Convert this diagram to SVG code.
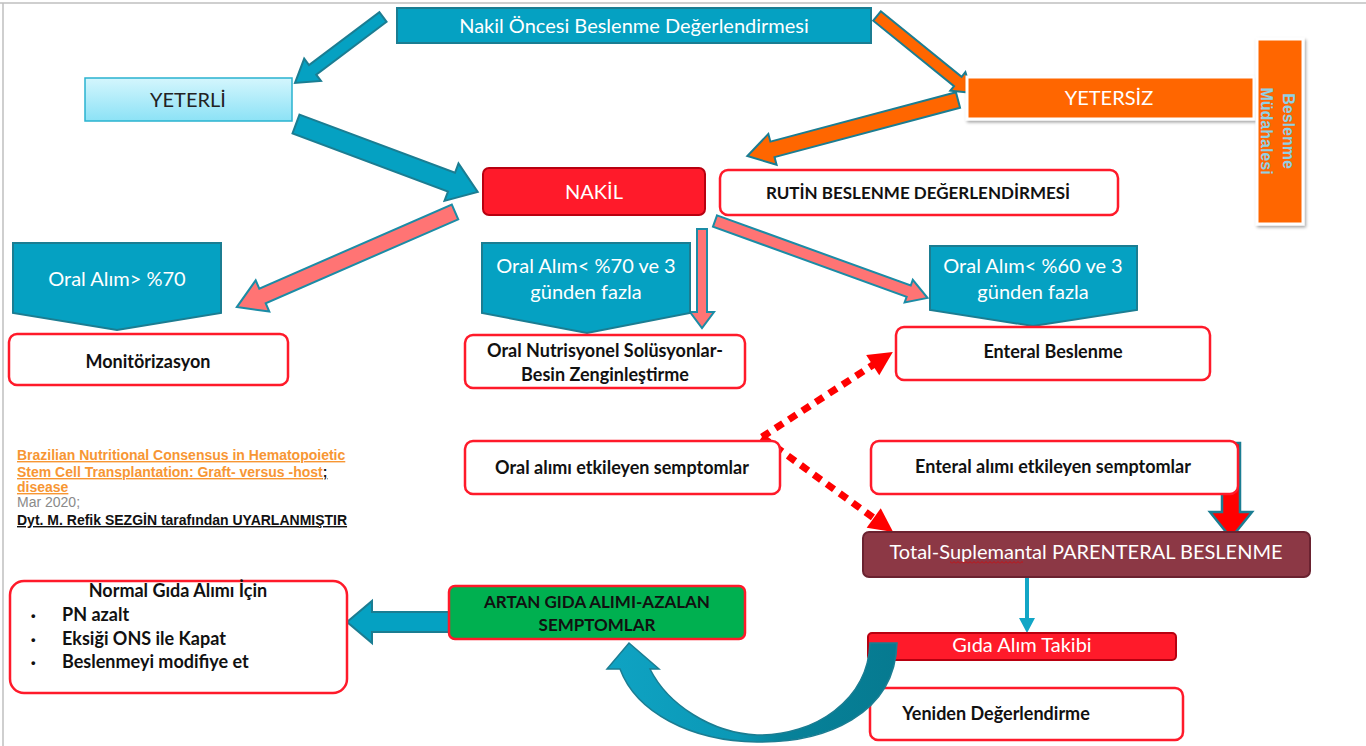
<svg xmlns="http://www.w3.org/2000/svg" width="1366" height="746" viewBox="0 0 1366 746">
<defs>
<style>
.tealbox{fill:#05A1C2;stroke:#1B7D92;stroke-width:2}
.wbox{fill:#fff;stroke:#FF1A2A;stroke-width:2.5}
.tw{font-family:Lato,"Open Sans",sans-serif;fill:#fff;font-size:20px;text-anchor:middle}
.tb{font-family:Lato,"Open Sans",sans-serif;fill:#111;font-size:18px;font-weight:bold;text-anchor:middle}
.tbu{font-size:17px}
.arT{fill:#05A1C2;stroke:#1B7D92;stroke-width:2;stroke-linejoin:miter}
.arO{fill:#FF6600;stroke:#1B7D92;stroke-width:2}
.arP{fill:#FF7474;stroke:#1B8CA6;stroke-width:2}
.dot{fill:none;stroke:#FF0000;stroke-width:7;stroke-dasharray:9 7}
.cit{font-family:"Liberation Sans",Arial,sans-serif;font-size:14px;font-weight:bold}
</style>
<linearGradient id="gY" x1="0" y1="0" x2="0" y2="1">
<stop offset="0" stop-color="#D4F6FD"/><stop offset="1" stop-color="#8CE2F6"/>
</linearGradient>
<linearGradient id="gC" x1="0" y1="0" x2="1" y2="0">
<stop offset="0" stop-color="#0FA3C3"/><stop offset="0.45" stop-color="#0B98B6"/><stop offset="0.6" stop-color="#07829A"/><stop offset="1" stop-color="#067A90"/>
</linearGradient>
<pattern id="wavy" width="4" height="3" patternUnits="userSpaceOnUse">
<path d="M0,2.5 L2,0.5 L4,2.5" fill="none" stroke="#E00000" stroke-width="0.7"/>
</pattern>
<filter id="sh" x="-10%" y="-10%" width="130%" height="130%">
<feDropShadow dx="1.5" dy="2" stdDeviation="1.5" flood-color="#000" flood-opacity="0.35"/>
</filter>
</defs>
<rect width="1366" height="746" fill="#fff"/>
<line x1="0" y1="3" x2="1366" y2="3" stroke="#BFBFBF" stroke-width="1.5"/>
<line x1="3" y1="3" x2="3" y2="746" stroke="#BFBFBF" stroke-width="1.5"/>

<g id="connectors">
<polygon class="arT" transform="translate(383,17) rotate(143.13)" points="0,-6 88,-6 88,-14 110,0 88,14 88,6 0,6"/>
<polygon class="arO" transform="translate(877,16) rotate(39)" points="0,-6 104,-6 104,-12 122,0 104,12 104,6 0,6"/>
<polygon class="arT" transform="translate(296,124) rotate(20.5)" points="0,-10 166,-10 166,-20 194,0 166,20 166,10 0,10"/>
<polygon class="arO" transform="translate(958,100) rotate(165.1)" points="0,-8 192,-8 192,-16 218,0 192,16 192,8 0,8"/>
<polygon class="arP" transform="translate(455,212) rotate(156.45)" points="0,-8 210,-8 210,-17 238,0 210,17 210,8 0,8"/>
<polygon class="arP" transform="translate(702,229) rotate(90)" points="0,-5 83,-5 83,-12 99,0 83,12 83,5 0,5"/>
<polygon class="arP" transform="translate(715,221) rotate(19.9)" points="0,-6 206,-6 206,-12 226,0 206,12 206,6 0,6"/>
<g transform="translate(762,437) rotate(-33)">
<line class="dot" x1="0" y1="0" x2="134" y2="0"/>
<polygon points="132,-12 156,0 132,12" fill="#FF0000"/>
</g>
<g transform="translate(762,437) rotate(35.95)">
<line class="dot" x1="0" y1="0" x2="140" y2="0"/>
<polygon points="138,-12 162,0 138,12" fill="#FF0000"/>
</g>
<polygon transform="translate(1231,443) rotate(90)" points="0,-9 69,-9 69,-21 95,0 69,21 69,9 0,9" fill="#FF0000" stroke="#1B7D92" stroke-width="2.5"/>
<line x1="1027" y1="578" x2="1027" y2="620" stroke="#12A6C6" stroke-width="4"/>
<polygon points="1019,618 1035,618 1027,633" fill="#12A6C6"/>
<polygon class="arT" transform="translate(449,622) rotate(180)" points="0,-10 77,-10 77,-21 102,0 77,21 77,10 0,10"/>
</g>

<g id="n_top">
<rect class="tealbox" x="397" y="8" width="474" height="35"/>
<text class="tw" x="634" y="33">Nakil Öncesi Beslenme Değerlendirmesi</text>
</g>
<g id="n_yeterli">
<rect x="85" y="78" width="207" height="43" fill="url(#gY)" stroke="#2AB3CF" stroke-width="1.5"/>
<text class="tw" x="188" y="107" style="fill:#222">YETERLİ</text>
</g>
<g id="n_yetersiz">
<rect x="967" y="77" width="287" height="42" fill="#FF6600" stroke="#fff" stroke-width="3" filter="url(#sh)"/>
<text class="tw" x="1109" y="105" font-size="19">YETERSİZ</text>
</g>
<g id="n_mudahale">
<rect x="1257" y="39" width="46" height="185" fill="#FF6600" stroke="#fff" stroke-width="3" filter="url(#sh)"/>
<g font-family="'Liberation Sans',Arial,sans-serif" font-weight="bold" font-size="16" fill="#8FD0E6" text-anchor="middle">
<text transform="translate(1283,131) rotate(90)">Beslenme</text>
<text transform="translate(1261,131) rotate(90)">Müdahalesi</text>
</g>
</g>
<g id="n_nakil">
<rect x="483" y="168" width="222" height="47" rx="6" fill="#FF1A2A" stroke="#B80010" stroke-width="2"/>
<text class="tw" x="594" y="199" font-size="21">NAKİL</text>
</g>
<g id="n_rutin">
<rect class="wbox" x="720" y="170" width="398" height="45" rx="8"/>
<text class="tb tbu" x="918" y="199">RUTİN BESLENME DEĞERLENDİRMESİ</text>
</g>
<g id="n_oral70">
<polygon class="tealbox" points="13,243 221,243 221,313 117,330 13,313"/>
<text class="tw" x="117" y="286">Oral Alım&gt; %70</text>
</g>
<g id="n_monitor">
<rect class="wbox" x="9" y="334" width="279" height="51" rx="8"/>
<text class="tb" x="148" y="368">Monitörizasyon</text>
</g>
<g id="n_oral70b">
<polygon class="tealbox" points="482,243 690,243 690,313 587,333 482,313"/>
<text class="tw" x="586" y="273">Oral Alım&lt; %70 ve 3</text>
<text class="tw" x="586" y="299">günden fazla</text>
</g>
<g id="n_ons">
<rect class="wbox" x="465" y="335" width="280" height="53" rx="8"/>
<text class="tb" x="605" y="357">Oral Nutrisyonel Solüsyonlar-</text>
<text class="tb" x="605" y="381">Besin Zenginleştirme</text>
</g>
<g id="n_oral60">
<polygon class="tealbox" points="930,246 1137,246 1137,310 1033,326 930,310"/>
<text class="tw" x="1033" y="273">Oral Alım&lt; %60 ve 3</text>
<text class="tw" x="1033" y="299">günden fazla</text>
</g>
<g id="n_enteral">
<rect class="wbox" x="896" y="327" width="314" height="53" rx="8"/>
<text class="tb" x="1053" y="358">Enteral Beslenme</text>
</g>
<g id="n_oralsemp">
<rect class="wbox" x="465" y="441" width="315" height="53" rx="8"/>
<text class="tb" x="622" y="474">Oral alımı etkileyen semptomlar</text>
</g>
<g id="n_entsemp">
<rect class="wbox" x="871" y="441" width="367" height="53" rx="8"/>
<text class="tb" x="1053" y="473">Enteral alımı etkileyen semptomlar</text>
</g>
<g id="n_parenteral">
<rect x="863" y="532" width="447" height="45" rx="6" fill="#8C3845" stroke="#6A2230" stroke-width="2"/>
<text class="tw" x="1086" y="559" font-size="15">Total-Suplemantal PARENTERAL BESLENME</text>
<rect x="950" y="561" width="73" height="3" fill="url(#wavy)"/>
</g>
<g id="n_gida">
<rect x="868" y="633" width="308" height="27" rx="4" fill="#FF1A2A" stroke="#B80010" stroke-width="2"/>
<text class="tw" x="1022" y="652" font-size="16">Gıda Alım Takibi</text>
</g>
<g id="n_yeniden">
<rect class="wbox" x="870" y="688" width="313" height="52" rx="8"/>
<text class="tb" x="996" y="720">Yeniden Değerlendirme</text>
</g>
<g id="n_artan">
<rect x="449" y="586" width="296" height="53" rx="6" fill="#00B050" stroke="#FF1A2A" stroke-width="2.5"/>
<text class="tb tbu" x="597" y="608">ARTAN GIDA ALIMI-AZALAN</text>
<text class="tb tbu" x="597" y="631">SEMPTOMLAR</text>
</g>
<g id="n_normal">
<rect class="wbox" x="10" y="581" width="337" height="112" rx="14"/>
<text class="tb" x="178" y="597">Normal Gıda Alımı İçin</text>
<g class="tb" style="text-anchor:start">
<text x="31" y="620" font-family="'Liberation Sans',sans-serif" font-size="13">•</text><text x="62" y="621">PN azalt</text>
<text x="31" y="644" font-family="'Liberation Sans',sans-serif" font-size="13">•</text><text x="62" y="645">Eksiği ONS ile Kapat</text>
<text x="31" y="667" font-family="'Liberation Sans',sans-serif" font-size="13">•</text><text x="62" y="668">Beslenmeyi modifiye et</text>
</g>
</g>
<g id="curved_arrow">
<path d="M897,643 C895,715 825,743 757,742 C690,741 636,712 620,669 L607,669 L629,643 L659,669 L650,669 C668,705 712,733 757,735 C815,736 868,700 870,643 Z" fill="url(#gC)" stroke="#1B7D92" stroke-width="1.5"/>
</g>
<g id="citation">
<text class="cit" x="17" y="460" fill="#F79633" text-decoration="underline">Brazilian Nutritional Consensus in Hematopoietic</text>
<text class="cit" x="17" y="477"><tspan fill="#F79633" text-decoration="underline">Stem Cell Transplantation: Graft- versus -host</tspan><tspan fill="#111" text-decoration="underline">;</tspan></text>
<text class="cit" x="17" y="492" fill="#F79633" text-decoration="underline">disease</text>
<text x="17" y="507" font-family="'Liberation Sans',Arial,sans-serif" font-size="14" fill="#8A8A8A">Mar 2020;</text>
<text class="cit" x="17" y="525" fill="#111" text-decoration="underline">Dyt. M. Refik SEZGİN tarafından UYARLANMIŞTIR</text>
</g>
</svg>
